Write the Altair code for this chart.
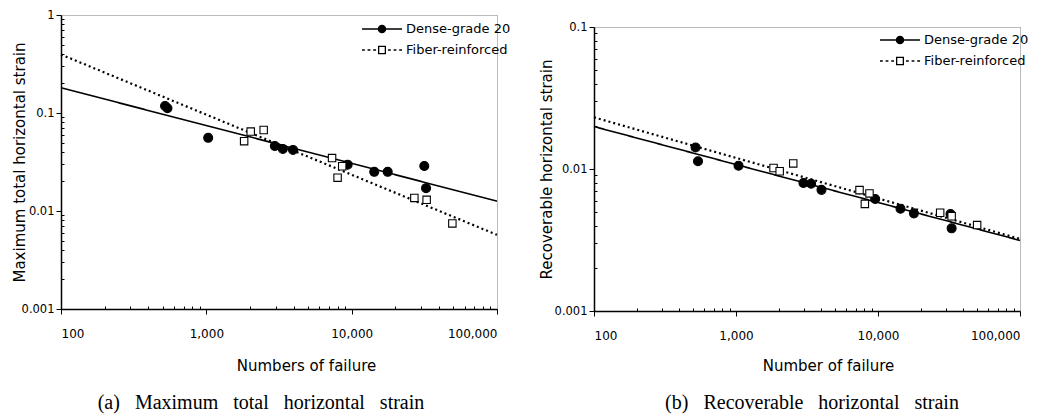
import altair as alt
import pandas as pd

SERIES = ["Dense-grade 20", "Fiber-reinforced"]

# ---------- (a) Maximum total horizontal strain ----------
A_DENSE_N = [520, 540, 1030, 2960, 3360, 3950, 9380, 14300, 17700, 31600, 32500]
A_DENSE_E = [0.118, 0.112, 0.0558, 0.046, 0.043, 0.042, 0.0297, 0.0251, 0.0251, 0.0288, 0.0171]
A_FIBER_N = [1820, 2020, 2480, 7330, 8000, 8610, 27000, 32800, 49300]
A_FIBER_E = [0.0516, 0.0646, 0.0671, 0.0347, 0.0219, 0.0286, 0.0136, 0.0130, 0.00747]
A_FIT_N = [100, 100000]
A_FIT_DENSE = [0.181, 0.0126]
A_FIT_FIBER = [0.395, 0.00571]

# ---------- (b) Recoverable horizontal strain ----------
B_DENSE_N = [519, 540, 1042, 2985, 3380, 4000, 9550, 14400, 17900, 32400, 33000]
B_DENSE_E = [0.01418, 0.01135, 0.01054, 0.00796, 0.00788, 0.00713, 0.00615, 0.00525, 0.00487, 0.00482, 0.00382]
B_FIBER_N = [1838, 2030, 2530, 7410, 8080, 8710, 27400, 33000, 49900]
B_FIBER_E = [0.01016, 0.00964, 0.01094, 0.0071, 0.00568, 0.00673, 0.00492, 0.00465, 0.00403]
B_FIT_N = [100, 100000]
B_FIT_DENSE = [0.0199, 0.00314]
B_FIT_FIBER = [0.0231, 0.00322]

X_TICKS = [m * 10 ** e for e in range(2, 5) for m in range(1, 10)] + [100000]
Y_TICKS_A = [round(m * 10.0 ** e, 6) for e in range(-3, 0) for m in range(1, 10)] + [1]
Y_TICKS_B = [round(m * 10.0 ** e, 6) for e in range(-3, -1) for m in range(1, 10)] + [0.1]

MAJOR = "abs(log(datum.value)/LN10 - round(log(datum.value)/LN10)) < 0.001"
TICK_SIZE = {"condition": {"test": MAJOR, "value": 5}, "value": -3}
SANS = "DejaVu Sans"

# legend symbols: line + marker, drawn in a 16px box (1 unit = 8px)
DENSE_PATH = ("M-2.5,0L2.5,0M-0.45,0A0.45,0.45,0,1,1,0.45,0"
              "A0.45,0.45,0,1,1,-0.45,0Z")
FIBER_PATH = ("M-2.5,0L-2.15,0M-1.8,0L-1.45,0M-1.1,0L-0.75,0"
              "M-0.42,-0.45L0.42,-0.45L0.42,0.45L-0.42,0.45Z"
              "M0.75,0L1.1,0M1.45,0L1.8,0M2.15,0L2.5,0")


def points_df(dn, de, fn, fe):
    return pd.DataFrame({
        "n": dn + fn,
        "e": de + fe,
        "series": [SERIES[0]] * len(dn) + [SERIES[1]] * len(fn),
    })


def fit_df(fn, fd, ff):
    return pd.DataFrame({
        "n": fn + fn,
        "e": fd + ff,
        "series": [SERIES[0]] * len(fn) + [SERIES[1]] * len(fn),
    })


def panel(pts, fits, ydom, yticks, ytitle, xtitle, caption, w, h,
          title_x, title_y, ytitle_x, leg_x, leg_y, cap_dx):
    xs = alt.Scale(type="log", domain=[100, 100000], nice=False)
    ys = alt.Scale(type="log", domain=ydom, nice=False)
    xax = alt.Axis(values=X_TICKS, grid=False, labelOverlap=False,
                   labelExpr=f"{MAJOR} ? format(datum.value, ',') : ''",
                   tickSize=TICK_SIZE, tickColor="black", tickWidth=1,
                   domainColor="black", domainWidth=1.5,
                   labelFont=SANS, labelFontSize=12, labelColor="black",
                   labelPadding=14, title=xtitle, titleFont=SANS,
                   titleFontSize=15, titleFontWeight="normal",
                   titleColor="black", titleX=title_x, titleY=title_y)
    yax = alt.Axis(values=yticks, grid=False, labelOverlap=False,
                   labelExpr=f"{MAJOR} ? format(datum.value, '') : ''",
                   tickSize=TICK_SIZE, tickColor="black", tickWidth=1,
                   domainColor="black", domainWidth=1.5,
                   labelFont=SANS, labelFontSize=11.5, labelColor="black",
                   labelPadding=2, title=ytitle, titleFont=SANS,
                   titleFontSize=15, titleFontWeight="normal",
                   titleColor="black", titleX=ytitle_x)
    x = alt.X("n:Q", scale=xs, axis=xax)
    y = alt.Y("e:Q", scale=ys, axis=yax)

    lines = alt.Chart(fits).mark_line(color="black").encode(
        x=x, y=y,
        strokeDash=alt.StrokeDash("series:N", scale=alt.Scale(
            domain=SERIES, range=[[1, 0], [2, 3]]), legend=None),
        strokeWidth=alt.StrokeWidth("series:N", scale=alt.Scale(
            domain=SERIES, range=[1.6, 2.2]), legend=None),
    )
    marks = alt.Chart(pts).mark_point(opacity=1, strokeWidth=1.1).encode(
        x=x, y=y,
        shape=alt.Shape("series:N", scale=alt.Scale(
            domain=SERIES, range=["circle", "square"]), legend=None),
        fill=alt.Fill("series:N", scale=alt.Scale(
            domain=SERIES, range=["black", "white"]), legend=None),
        stroke=alt.value("black"),
        size=alt.condition(f"datum.series == '{SERIES[0]}'",
                           alt.value(80), alt.value(55)),
    )
    legend = alt.Legend(title=None, orient="none", legendX=leg_x,
                        legendY=leg_y, labelFont=SANS, labelFontSize=13,
                        labelColor="black", symbolSize=256,
                        symbolStrokeColor="black", symbolStrokeWidth=1.3,
                        symbolOpacity=1, rowPadding=5, labelOffset=15)
    leg = alt.Chart(pts).mark_point(opacity=1, filled=False,
                                    strokeWidth=1.3).encode(
        x=x, y=y,
        shape=alt.Shape("series:N", scale=alt.Scale(
            domain=SERIES, range=[DENSE_PATH, FIBER_PATH]), legend=legend),
        fill=alt.Fill("series:N", scale=alt.Scale(
            domain=SERIES, range=["black", "white"]), legend=legend),
        stroke=alt.Stroke("series:N", scale=alt.Scale(
            domain=SERIES, range=["black", "black"]), legend=legend),
    ).transform_filter("false")

    return alt.layer(lines, marks, leg).resolve_scale(
        shape="independent", fill="independent", stroke="independent"
    ).properties(
        width=w, height=h,
        title=alt.TitleParams(caption, orient="bottom", font="Liberation Serif",
                              fontSize=20, fontWeight="normal", color="black",
                              offset=20, dx=cap_dx),
    )


GAP = "\u00a0\u00a0 "
left = panel(points_df(A_DENSE_N, A_DENSE_E, A_FIBER_N, A_FIBER_E),
             fit_df(A_FIT_N, A_FIT_DENSE, A_FIT_FIBER),
             [0.001, 1], Y_TICKS_A, "Maximum total horizontal strain",
             "Numbers of failure",
             GAP.join(["(a)", "Maximum", "total", "horizontal", "strain"]),
             436, 294, 245, 49, -34, 312, 5, -18)

right = panel(points_df(B_DENSE_N, B_DENSE_E, B_FIBER_N, B_FIBER_E),
              fit_df(B_FIT_N, B_FIT_DENSE, B_FIT_FIBER),
              [0.001, 0.1], Y_TICKS_B, "Recoverable horizontal strain",
              "Number of failure",
              GAP.join(["(b)", "Recoverable", "horizontal", "strain"]),
              426, 284, 234, 47, -40, 297, 4, 5)

spacer = alt.Chart(pd.DataFrame({"a": [0]})).mark_text(text="").encode(
    x=alt.value(0), y=alt.value(0)
).properties(width=426, height=5, view=alt.ViewBackground(stroke=None))

chart = alt.hconcat(
    left, alt.vconcat(spacer, right, spacing=0), spacing=26
).properties(
    padding={"left": 3, "top": 0, "right": 0, "bottom": 0}, background="white"
).configure_view(
    stroke="#777777", strokeDash=[1, 1], strokeWidth=1
)

chart.save("out.html", embed_options={"renderer": "svg", "actions": False})
